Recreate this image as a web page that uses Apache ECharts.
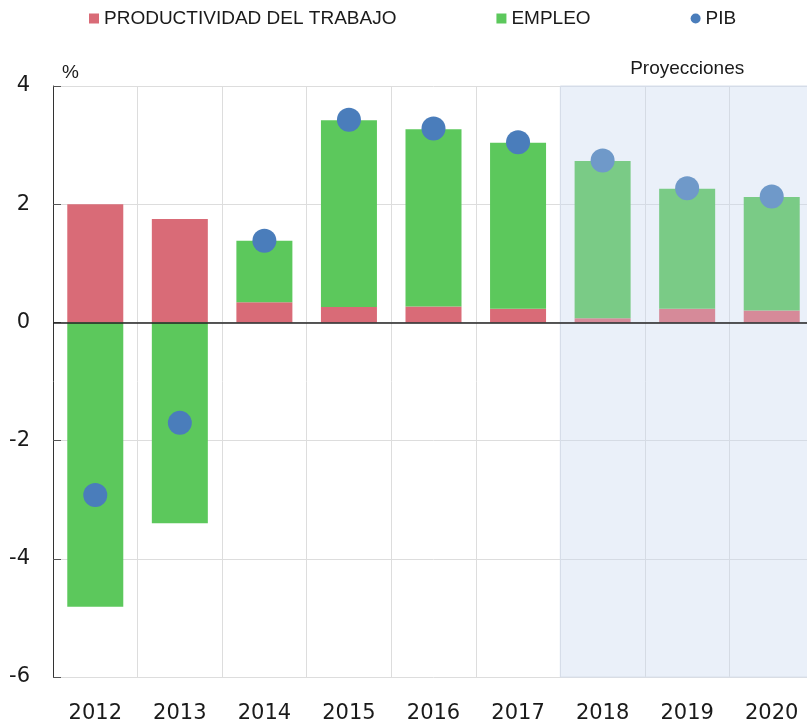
<!DOCTYPE html>
<html>
<head>
<meta charset="utf-8">
<script src="https://cdn.jsdelivr.net/npm/echarts@6/dist/echarts.min.js"></script>
<style>
  html, body { margin: 0; padding: 0; background: #fff; overflow: hidden; }
  #chart { width: 814px; height: 721px; }
</style>
</head>
<body>
<div id="chart"></div>
<script>
var years = ["2012", "2013", "2014", "2015", "2016", "2017", "2018", "2019", "2020"];
var productividad = [2.0, 1.75, 0.34, 0.26, 0.27, 0.23, 0.07, 0.23, 0.20];
var empleo = [-4.81, -3.40, 1.04, 3.16, 3.00, 2.81, 2.66, 2.03, 1.92];
var pib = [-2.92, -1.70, 1.38, 3.43, 3.28, 3.05, 2.74, 2.27, 2.13];
var firstProjection = 6; // 2018 en adelante son proyecciones

(function () {
  var myChart = echarts.init(document.getElementById("chart"));
  var txt = "#1a1a1a";

  // colores normales y colores de proyeccion
  function paint(values, normal, light) {
    return values.map(function (v, i) {
      return { value: v, itemStyle: { color: i >= firstProjection ? light : normal } };
    });
  }

  const option = {
    animation: false,
    textStyle: { fontFamily: "Liberation Sans" },
    legend: {
      left: 84,
      top: 4,
      itemWidth: 10,
      itemHeight: 10,
      itemGap: 100,
      textStyle: { fontSize: 19, color: txt, fontFamily: "Liberation Sans" },
      data: [
        { name: "PRODUCTIVIDAD DEL TRABAJO", icon: "rect", itemStyle: { color: "#d96b77" } },
        { name: "EMPLEO", icon: "rect", itemStyle: { color: "#5cc85c" } },
        { name: "PIB", icon: "circle", itemStyle: { color: "#4a7dbb" } }
      ]
    },
    grid: { left: 53, right: 0, top: 86, bottom: 44, outerBoundsMode: "none" },
    xAxis: [
      {
        type: "category",
        data: years,
        axisLine: { show: false, onZero: false },
        axisTick: { show: false },
        axisLabel: { fontSize: 21, color: txt, fontFamily: "DejaVu Sans", margin: 26 },
        splitLine: { show: true, lineStyle: { color: "#dddddd" } }
      },
      { type: "value", min: 0, max: years.length, show: false }
    ],
    yAxis: {
      type: "value",
      min: -6,
      max: 4,
      interval: 2,
      name: "%",
      nameGap: 4,
      nameTextStyle: { fontSize: 19, color: txt, align: "left", padding: [0, 0, 0, 9] },
      axisLine: { show: true, onZero: false, lineStyle: { color: "#333", width: 1 } },
      axisTick: { show: true, inside: true, length: 8, lineStyle: { color: "#555" } },
      axisLabel: { fontSize: 21, color: txt, fontFamily: "DejaVu Sans", margin: 23 },
      splitLine: { lineStyle: { color: "#dddddd" } }
    },
    series: [
      {
        name: "proyecciones",
        type: "line",
        xAxisIndex: 1,
        data: [],
        markArea: {
          silent: true,
          itemStyle: { color: "rgba(200,215,238,0.38)", borderColor: "#d6deeb", borderWidth: 1 },
          label: {
            show: true,
            position: "top",
            distance: 7,
            fontSize: 19,
            color: txt,
            fontFamily: "Liberation Sans"
          },
          data: [[
            { name: "Proyecciones", xAxis: firstProjection, yAxis: -6.05 },
            { xAxis: years.length, yAxis: 4 }
          ]]
        }
      },
      {
        name: "PRODUCTIVIDAD DEL TRABAJO",
        type: "bar",
        stack: "total",
        barWidth: 56,
        data: paint(productividad, "#d96b77", "#d68a99"),
        markLine: {
          silent: true,
          symbol: "none",
          label: { show: false },
          lineStyle: { color: "#222", width: 1.5, type: "solid" },
          data: [{ yAxis: 0 }]
        }
      },
      {
        name: "EMPLEO",
        type: "bar",
        stack: "total",
        barWidth: 56,
        data: paint(empleo, "#5cc85c", "#7acb86")
      },
      {
        name: "PIB",
        type: "scatter",
        symbolSize: 24,
        z: 4,
        itemStyle: { opacity: 1 },
        data: paint(pib, "#4a7dbb", "#6f99c9")
      }
    ]
  };

  myChart.setOption(option);
})();
</script>
</body>
</html>
